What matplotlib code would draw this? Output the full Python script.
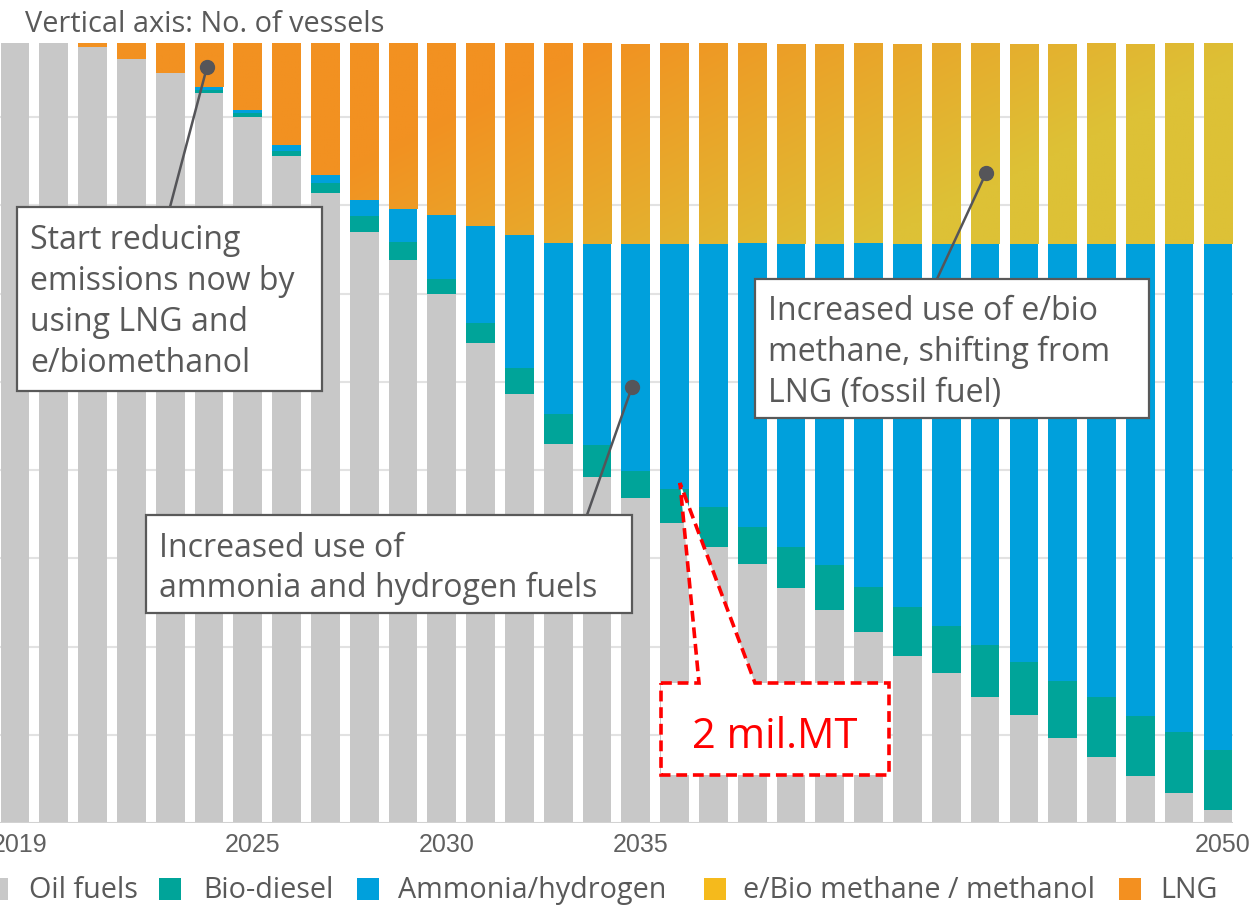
import numpy as np
import matplotlib.pyplot as plt
from matplotlib.patches import Rectangle, Polygon
from matplotlib.lines import Line2D
from matplotlib.transforms import ScaledTranslation

# number of vessels by fuel type, 2019-2050
years = list(range(2019, 2051))
oil = [8840, 8840, 8800, 8660, 8500, 8270, 8000, 7560, 7140, 6700, 6380, 5990,
       5440, 4860, 4290, 3920, 3680, 3400, 3130, 2930, 2660, 2410, 2170, 1890,
       1700, 1430, 1220, 960, 750, 530, 340, 150]
bio_diesel = [0, 0, 0, 0, 0, 35, 45, 55, 115, 180, 205, 180,
              225, 295, 340, 365, 305, 385, 455, 420, 465, 510, 500, 555,
              535, 590, 610, 645, 680, 680, 690, 680]
ammonia = [0, 0, 0, 0, 0, 35, 35, 70, 90, 180, 375, 715,
           1100, 1510, 1940, 2280, 2575, 2780, 2980, 3220, 3435, 3640, 3900, 4115,
           4330, 4545, 4730, 4955, 5135, 5350, 5535, 5735]
# LNG, progressively replaced by e/bio methane
gas = [0, 0, 40, 180, 340, 500, 760, 1155, 1495, 1780, 1880, 1955,
       2075, 2175, 2270, 2270, 2270, 2270, 2270, 2270, 2270, 2270, 2270, 2270,
       2270, 2270, 2270, 2270, 2270, 2270, 2270, 2270]
total = 8840

tick_years = [2019, 2025, 2030, 2035, 2050]
legend_labels = ['Oil fuels', 'Bio-diesel', 'Ammonia/hydrogen',
                 'e/Bio methane / methanol', 'LNG']

GRAY = '#C8C8C8'
TEAL = '#00A499'
BLUE = '#00A0DC'
YELLOW = '#F5BA1C'
ORANGE = '#F39020'
TXT = '#595959'
FONT = 'Open Sans'

W, H = 1252, 905
fig = plt.figure(figsize=(W / 100, H / 100), dpi=100)
ax = fig.add_axes([0, 1 - 823 / H, 1233 / W, 780 / H])

x = np.arange(len(years))
oil = np.array(oil)
bio_diesel = np.array(bio_diesel)
ammonia = np.array(ammonia)
gas = np.array(gas)
bw = 0.74

ax.bar(x, oil, bw, color=GRAY, lw=0, zorder=2)
ax.bar(x, bio_diesel, bw, bottom=oil, color=TEAL, lw=0, zorder=2)
ax.bar(x, ammonia, bw, bottom=oil + bio_diesel, color=BLUE, lw=0, zorder=2)
gas_bars = ax.bar(x, gas, bw, bottom=oil + bio_diesel + ammonia,
                  color=ORANGE, lw=0, zorder=2)

xlim = (-0.387, 31.39)
ax.set_xlim(*xlim)
ax.set_ylim(0, total)

# orange -> gold gradient of the LNG / e-methane block
gx = np.linspace(xlim[0], xlim[1], 500)
gy = np.linspace(0, total, 300)
GX, GY = np.meshgrid(gx, gy)
t = np.clip((GX - 15.0) / 17.5 + (total - GY) / 3800, 0, 1)[..., None]
c0 = np.array([242, 145, 33]) / 255
c1 = np.array([221, 193, 54]) / 255
rgb = c0 * (1 - t) + c1 * t
for p in gas_bars:
    im = ax.imshow(rgb, extent=(xlim[0], xlim[1], 0, total), origin='lower',
                   aspect='auto', interpolation='bilinear', zorder=2.5)
    im.set_clip_path(p)
ax.set_xlim(*xlim)
ax.set_ylim(0, total)

ax.set_yticks(range(1000, 9000, 1000))
ax.yaxis.grid(True, color='#E2E2E2', lw=1.5)
ax.set_axisbelow(True)
ax.tick_params(axis='y', length=0, labelleft=False)
ax.axhline(0, color='#D2D2D2', lw=2.2, zorder=3)
for s in ax.spines.values():
    s.set_visible(False)

ax.set_xticks([years.index(y) for y in tick_years])
ax.set_xticklabels([str(y) for y in tick_years], fontsize=18,
                   family='Liberation Sans', color='#606060')
ax.tick_params(axis='x', length=0, pad=7)
for lab in ax.get_xticklabels():
    lab.set_transform(lab.get_transform() + ScaledTranslation(0.05, 0, fig.dpi_scale_trans))


def fp(px, py):
    return px / W, 1 - py / H


fig.text(*fp(25, 32), 'Vertical axis: No. of vessels', fontsize=20.8,
         family=FONT, color=TXT, va='baseline')


def note(x0, y0, x1, y1, tx, lines, bases, dot, foot):
    fig.add_artist(Line2D([dot[0] / W, foot[0] / W], [1 - dot[1] / H, 1 - foot[1] / H],
                          color='#555559', lw=1.8, zorder=4))
    fig.add_artist(Line2D([dot[0] / W], [1 - dot[1] / H], marker='o', ms=10,
                          color='#555559', zorder=4))
    fig.add_artist(Rectangle(fp(x0, y1), (x1 - x0) / W, (y1 - y0) / H,
                             transform=fig.transFigure, fc='white', ec=TXT,
                             lw=1.6, zorder=5))
    for s, b in zip(lines, bases):
        fig.text(*fp(tx, b), s, fontsize=23, family=FONT, color=TXT,
                 va='baseline', zorder=6)


note(17, 207, 322, 391, 30,
     ['Start reducing', 'emissions now by', 'using LNG and', 'e/biomethanol'],
     [249, 290, 331, 372], (207, 67), (170, 207))
note(146, 515, 632, 613, 159,
     ['Increased use of', 'ammonia and hydrogen fuels'],
     [557, 597], (632, 387), (587, 515))
note(755, 279, 1149, 418, 768,
     ['Increased use of e/bio', 'methane, shifting from', 'LNG (fossil fuel)'],
     [320, 361, 402], (986, 173), (937, 279))

# red dashed callout
call = [(661, 683), (699, 683), (680, 483), (755, 683), (889, 683),
        (889, 775), (661, 775)]
fig.add_artist(Polygon([fp(a, b) for a, b in call], closed=True,
                       transform=fig.transFigure, fc='white', ec='#FF0000',
                       lw=2.6, ls=(0, (3, 1.6)), zorder=5))
fig.text(*fp(775, 748), '2 mil.MT', fontsize=30, family=FONT, color='#FF0000',
         ha='center', va='baseline', zorder=6)

# legend
leg_sq = [-14, 159, 357, 704, 1119]
leg_tx = [29, 203, 398, 743, 1160]
leg_col = [GRAY, TEAL, BLUE, YELLOW, ORANGE]
for sq, tx, col, lab in zip(leg_sq, leg_tx, leg_col, legend_labels):
    fig.add_artist(Rectangle(fp(sq, 900), 22 / W, 22 / H, transform=fig.transFigure,
                             fc=col, ec='none'))
    fig.text(*fp(tx, 898), lab, fontsize=20.7, family=FONT, color=TXT,
             va='baseline')

fig.savefig('out.png', dpi=100)
